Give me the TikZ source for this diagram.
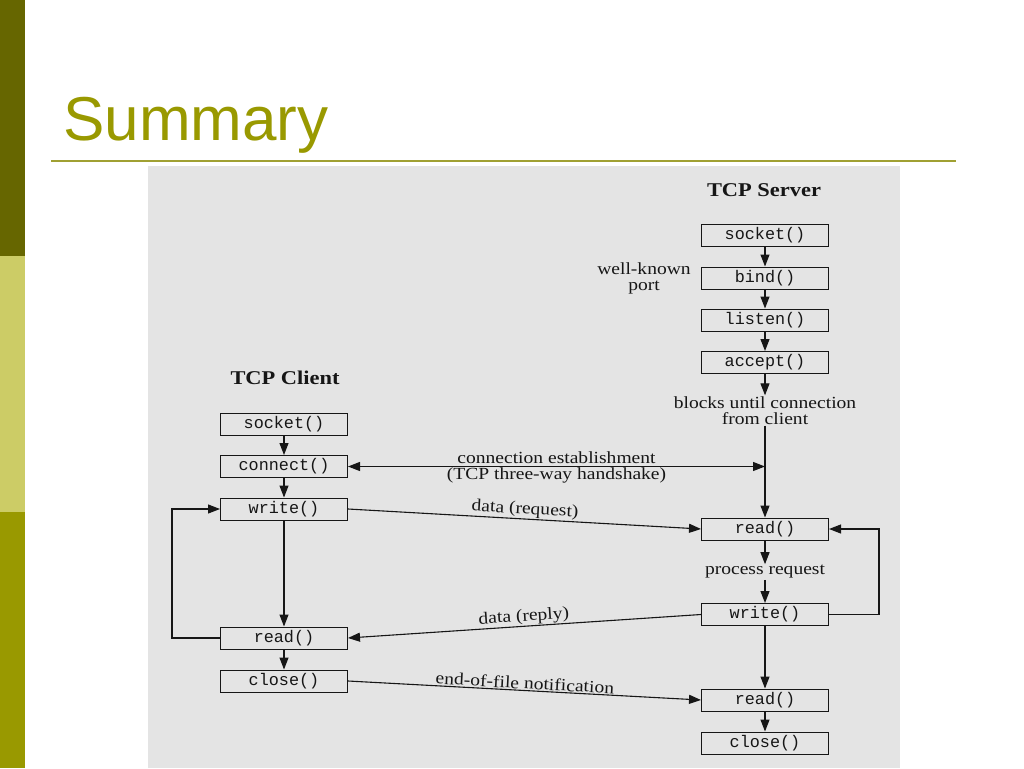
\documentclass[tikz,border=0pt]{standalone}
\usepackage{fontspec}
\newfontfamily\titlefont{Liberation Sans}
\newfontfamily\boxfont{Liberation Mono}
\newfontfamily\labelfont[FakeStretch=1.15]{Liberation Serif}
\usetikzlibrary{arrows.meta}
\definecolor{olivedark}{RGB}{102,102,0}
\definecolor{olivelight}{RGB}{204,204,102}
\definecolor{olivemid}{RGB}{153,153,0}
\definecolor{titleolive}{RGB}{153,153,0}
\definecolor{ruleolive}{RGB}{160,160,50}
\definecolor{scan}{RGB}{228,228,228}
\definecolor{ink}{RGB}{22,22,22}
\begin{document}
\begin{tikzpicture}[x=1pt,y=-1pt,
 fnbox/.style={draw=ink, line width=1pt, minimum width=127pt, minimum height=22pt, inner sep=0pt, font=\boxfont\fontsize{16.8}{16.8}\selectfont, text=ink},
 lbl/.style={font=\labelfont\fontsize{17}{16}\selectfont, text=ink, inner sep=1pt},
 hdr/.style={font=\labelfont\bfseries\fontsize{19.5}{19.5}\selectfont, text=ink},
 arr/.style={draw=ink, line width=1.1pt, -{Triangle[length=12pt,width=9pt]}},
 dbl/.style={draw=ink, line width=1.1pt, {Triangle[length=12pt,width=9pt]}-{Triangle[length=12pt,width=9pt]}}]
\useasboundingbox (0,0) rectangle (1024,768);
\fill[white] (0,0) rectangle (1024,768);
\fill[olivedark] (0,0) rectangle (25,256);
\fill[olivelight] (0,256) rectangle (25,512);
\fill[olivemid] (0,512) rectangle (25,768);
\fill[scan] (148,166) rectangle (900,768);
\draw[ruleolive, line width=2.5pt] (51,161) -- (956,161);
\node[anchor=base west, inner sep=0pt, font=\titlefont\fontsize{62}{62}\selectfont, text=titleolive] (title) at (63,140) {Summary};
% server
\node[hdr] (shdr) at (764,190) {TCP Server};
\node[fnbox] (ssock) at (765,235.5) {socket()};
\node[fnbox] (sbind) at (765,278) {bind()};
\node[fnbox] (slisten) at (765,320) {listen()};
\node[fnbox] (saccept) at (765,362.5) {accept()};
\node[lbl, align=center] (wkp) at (644,278) {well-known\\port};
\node[lbl, align=center] (blocks) at (765,410.5) {blocks until connection\\from client};
\node[fnbox] (sread) at (765,529) {read()};
\node[lbl] (proc) at (765,572) {process request};
\node[fnbox] (swrite) at (765,614.5) {write()};
\node[fnbox] (sread2) at (765,700) {read()};
\node[fnbox] (sclose) at (765,743) {close()};
% client
\node[hdr] (chdr) at (285,378) {TCP Client};
\node[fnbox] (csock) at (284,424.5) {socket()};
\node[fnbox] (cconn) at (284,466.5) {connect()};
\node[fnbox] (cwrite) at (284,509) {write()};
\node[fnbox] (cread) at (284,638) {read()};
\node[fnbox] (cclose) at (284,681) {close()};
% server connectors
\draw[arr] (ssock) -- (sbind);
\draw[arr] (sbind) -- (slisten);
\draw[arr] (slisten) -- (saccept);
\draw[arr] (saccept) -- (blocks);
\draw[arr] (blocks) -- (sread);
\draw[arr] (sread) -- (proc);
\draw[arr] (proc) -- (swrite);
\draw[arr] (swrite.east) -- ++(50,0) |- (sread.east);
\draw[arr] (swrite) -- (sread2);
\draw[arr] (sread2) -- (sclose);
% client connectors
\draw[arr] (csock) -- (cconn);
\draw[arr] (cconn) -- (cwrite);
\draw[arr] (cwrite) -- (cread);
\draw[arr] (cread.west) -- ++(-48,0) |- (cwrite.west);
\draw[arr] (cread) -- (cclose);
% between
\draw[dbl] (cconn.east) -- (cconn.east -| blocks.south)
  node[lbl, midway, above, inner sep=0pt, yshift=2.5pt] {connection establishment}
  node[lbl, midway, below, inner sep=0pt, yshift=-1pt] {(TCP three-way handshake)};
\draw[arr] (cwrite.east) -- (sread.west) node[lbl, midway, sloped, above] {data (request)};
\draw[arr] (swrite.west) -- (cread.east) node[lbl, midway, sloped, above] {data (reply)};
\draw[arr] (cclose.east) -- (sread2.west) node[lbl, midway, sloped, above] {end-of-file notification};
\end{tikzpicture}
\end{document}
